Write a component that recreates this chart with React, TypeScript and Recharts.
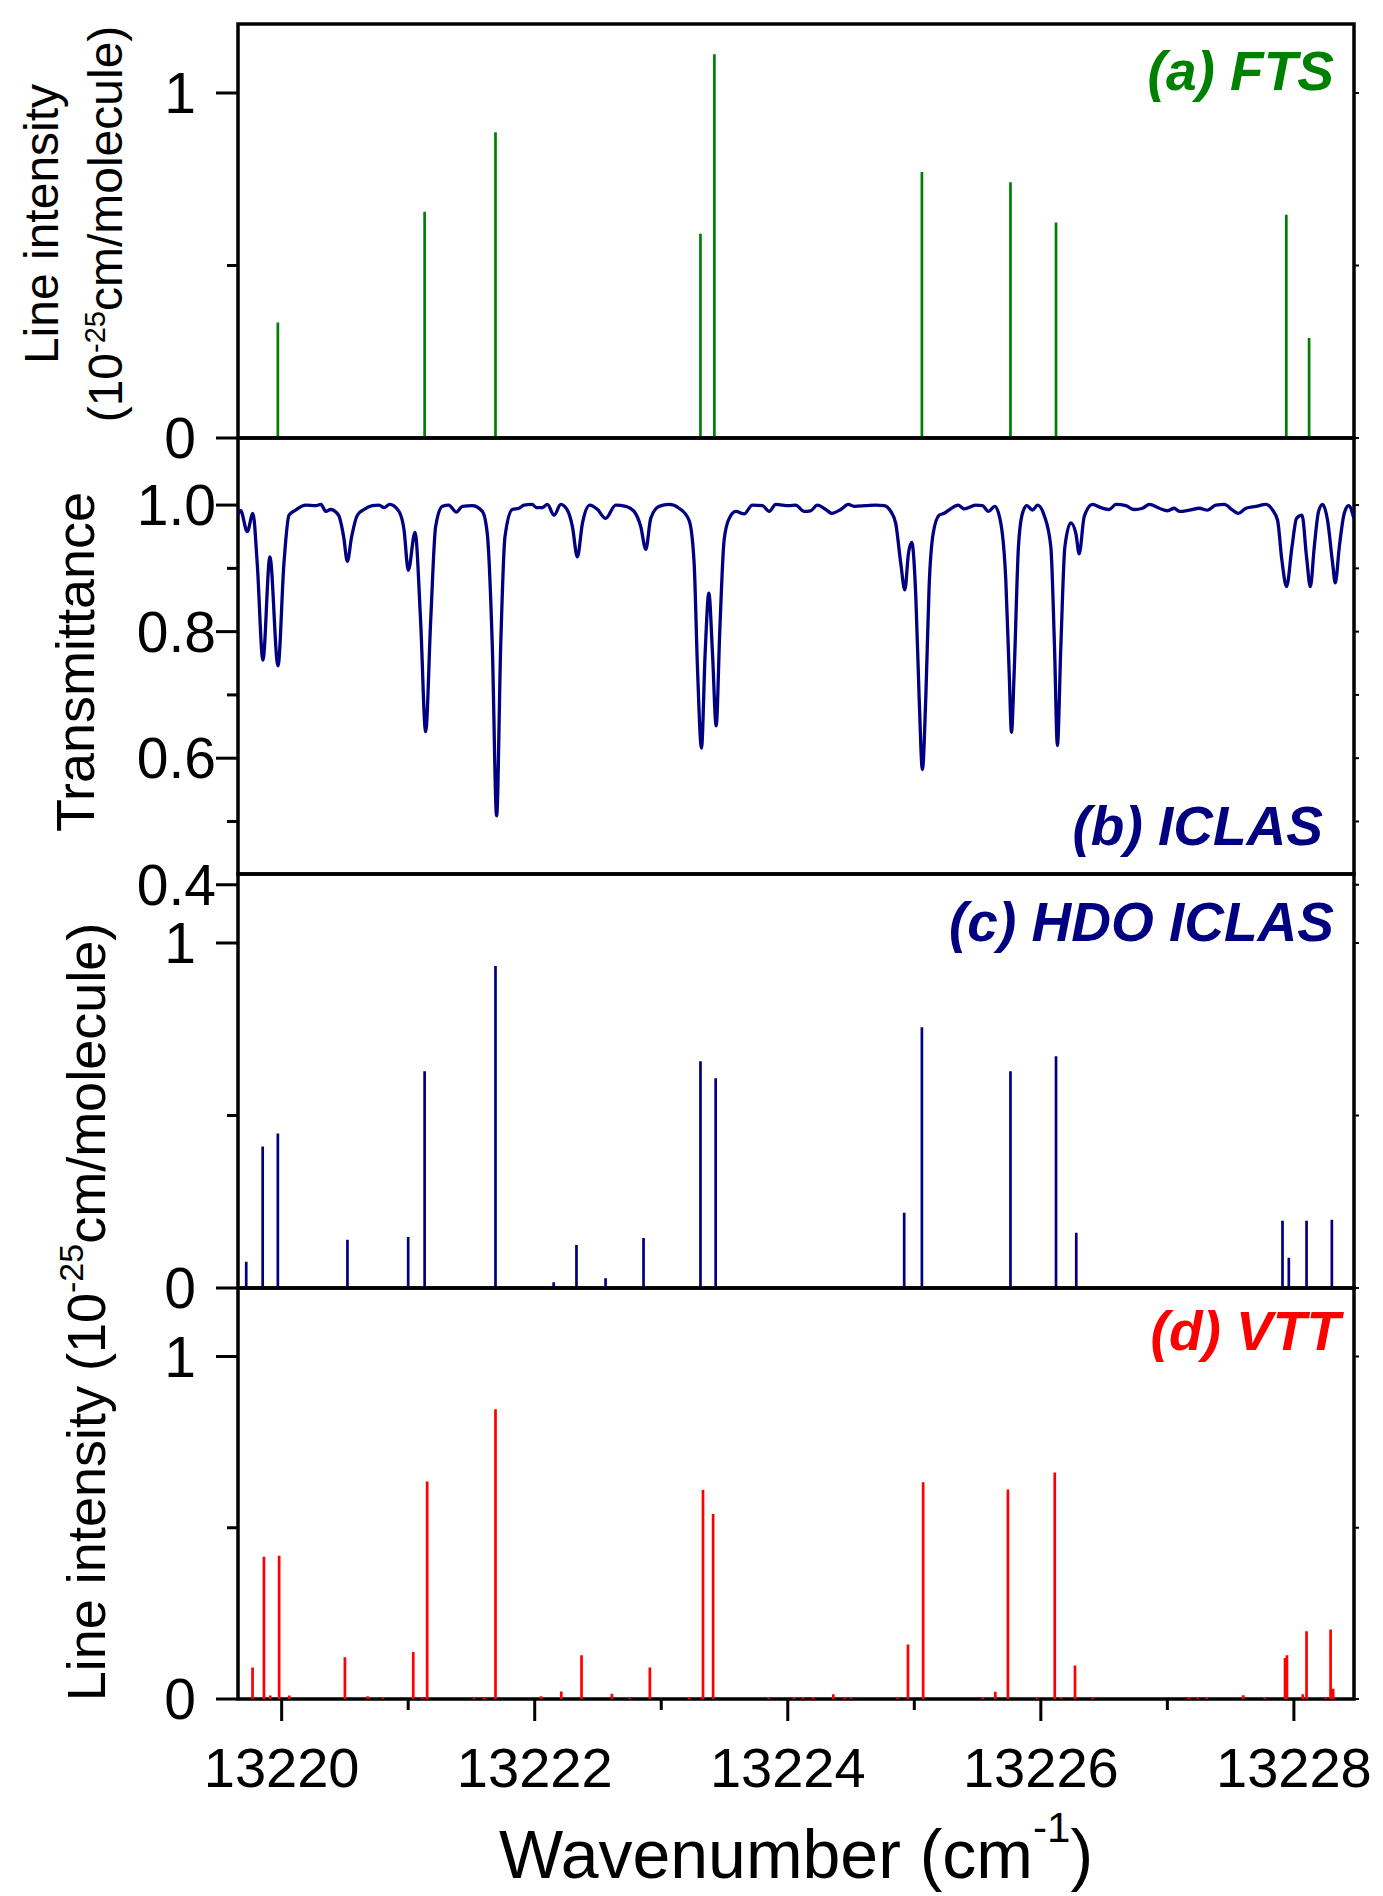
import React from "react";
import { LineChart, Line, XAxis, YAxis, ReferenceArea } from "recharts";

// wavenumber axis (cm-1)
const X_MIN = 13219.655;
const X_MAX = 13228.475;
const X_TICKS = [13220, 13221, 13222, 13223, 13224, 13225, 13226, 13227, 13228];

// (a) FTS line list
const FTS_WN = [13219.97, 13221.13, 13221.69, 13223.31, 13223.42, 13225.06, 13225.76, 13226.12, 13227.94, 13228.12];
const FTS_S = [0.335, 0.656, 0.886, 0.592, 1.112, 0.771, 0.741, 0.625, 0.647, 0.29];

// (b) ICLAS transmittance trace
const TRANS_WN = [
  13219.656, 13219.676, 13219.728, 13219.773, 13219.807, 13219.852, 13219.907, 13219.971, 13220.018, 13220.058,
  13220.11, 13220.19, 13220.27, 13220.31, 13220.35, 13220.387, 13220.45, 13220.49, 13220.519, 13220.553,
  13220.598, 13220.65, 13220.716, 13220.77, 13220.81, 13220.853, 13220.927, 13220.967, 13221.001, 13221.054,
  13221.098, 13221.138, 13221.178, 13221.217, 13221.27, 13221.32, 13221.38, 13221.428, 13221.507, 13221.586,
  13221.625, 13221.665, 13221.699, 13221.731, 13221.765, 13221.823, 13221.876, 13221.916, 13221.98, 13222.013,
  13222.06, 13222.1, 13222.153, 13222.206, 13222.258, 13222.298, 13222.337, 13222.377, 13222.435, 13222.496,
  13222.56, 13222.64, 13222.72, 13222.785, 13222.838, 13222.878, 13222.917, 13222.983, 13223.062, 13223.141,
  13223.22, 13223.26, 13223.286, 13223.318, 13223.347, 13223.376, 13223.405, 13223.434, 13223.463, 13223.497,
  13223.537, 13223.59, 13223.655, 13223.72, 13223.8, 13223.853, 13223.905, 13224.01, 13224.063, 13224.129,
  13224.18, 13224.234, 13224.3, 13224.348, 13224.419, 13224.479, 13224.524, 13224.616, 13224.695, 13224.761,
  13224.814, 13224.853, 13224.893, 13224.925, 13224.954, 13224.98, 13225.012, 13225.038, 13225.064, 13225.091,
  13225.117, 13225.149, 13225.196, 13225.236, 13225.28, 13225.346, 13225.394, 13225.486, 13225.539, 13225.586,
  13225.636, 13225.684, 13225.723, 13225.75, 13225.768, 13225.789, 13225.823, 13225.855, 13225.89, 13225.934,
  13225.974, 13226.026, 13226.079, 13226.108, 13226.131, 13226.158, 13226.19, 13226.237, 13226.277, 13226.303,
  13226.343, 13226.409, 13226.475, 13226.54, 13226.593, 13226.672, 13226.738, 13226.804, 13226.857, 13226.936,
  13227.002, 13227.054, 13227.094, 13227.173, 13227.252, 13227.318, 13227.384, 13227.45, 13227.516, 13227.56,
  13227.621, 13227.7, 13227.779, 13227.832, 13227.871, 13227.905, 13227.942, 13227.985, 13228.021, 13228.064,
  13228.1, 13228.13, 13228.161, 13228.195, 13228.227, 13228.266, 13228.306, 13228.327, 13228.359, 13228.398,
  13228.433, 13228.474,
];
const TRANS_T = [
  0.986, 0.991, 0.958, 0.987, 0.908, 0.755, 0.918, 0.746, 0.908, 0.984,
  0.992, 1.0, 0.999, 1.001, 0.99, 0.993, 0.984, 0.95, 0.911, 0.95,
  0.984, 0.993, 0.999, 1.0, 0.996, 1.001, 0.99, 0.961, 0.897, 0.957,
  0.818, 0.642, 0.818, 0.966, 0.998, 1.0, 0.989, 0.998, 0.999, 0.99,
  0.955, 0.776, 0.509, 0.776, 0.95, 0.993, 0.995, 1.0, 1.001, 0.996,
  0.996, 1.001, 0.984, 1.001, 0.992, 0.966, 0.918, 0.971, 1.0, 0.993,
  0.979, 1.0, 0.998, 0.99, 0.966, 0.93, 0.979, 0.998, 1.001, 0.995,
  0.976, 0.908, 0.745, 0.616, 0.766, 0.861, 0.766, 0.651, 0.803, 0.945,
  0.979, 0.99, 0.986, 1.0, 0.999, 0.99, 1.001, 0.999, 1.0, 0.99,
  0.991, 1.0, 0.993, 0.987, 0.993, 1.001, 0.998, 0.999, 1.0, 0.999,
  0.99, 0.971, 0.908, 0.866, 0.924, 0.941, 0.855, 0.697, 0.582, 0.697,
  0.871, 0.955, 0.984, 0.987, 0.993, 1.0, 0.994, 1.0, 0.999, 0.99,
  0.998, 0.971, 0.882, 0.734, 0.641, 0.734, 0.934, 0.987, 0.999, 0.992,
  1.0, 0.984, 0.934, 0.776, 0.62, 0.776, 0.934, 0.972, 0.955, 0.923,
  0.982, 1.001, 0.996, 0.993, 1.001, 0.999, 0.993, 0.995, 1.001, 0.995,
  0.991, 0.995, 0.99, 0.992, 0.995, 0.992, 1.0, 1.001, 0.992, 0.987,
  0.995, 0.998, 1.001, 0.992, 0.976, 0.913, 0.871, 0.934, 0.979, 0.984,
  0.918, 0.871, 0.934, 0.99, 1.001, 0.976, 0.908, 0.877, 0.934, 0.987,
  0.999, 0.979,
];

// (c) HDO ICLAS line list
const HDO_WN = [
  13219.72, 13219.85, 13219.97, 13220.52, 13221.0, 13221.13, 13221.69, 13222.15, 13222.33, 13222.56, 13222.86,
  13223.31, 13223.43, 13224.92, 13225.06, 13225.76, 13226.12, 13226.28, 13227.91, 13227.96, 13228.1, 13228.3,
];
const HDO_S = [
  0.076, 0.41, 0.448, 0.14, 0.148, 0.628, 0.933, 0.017, 0.125, 0.028, 0.145,
  0.657, 0.608, 0.218, 0.756, 0.628, 0.672, 0.16, 0.195, 0.088, 0.195, 0.198,
];

// (d) VTT calculated line list
const VTT_WN = [
  13219.77, 13219.86, 13219.91, 13219.98, 13220.06, 13220.5, 13220.68, 13220.8, 13221.04, 13221.11,
  13221.15, 13221.52, 13221.6, 13221.69, 13222.05, 13222.21, 13222.37, 13222.61, 13222.75, 13222.91,
  13223.22, 13223.33, 13223.41, 13223.85, 13224.05, 13224.12, 13224.2, 13224.36, 13224.45, 13224.5,
  13224.87, 13224.95, 13225.07, 13225.54, 13225.64, 13225.74, 13225.97, 13226.11, 13226.16, 13226.27,
  13226.41, 13227.17, 13227.24, 13227.31, 13227.6, 13227.77, 13227.93, 13227.945, 13228.07, 13228.1,
  13228.25, 13228.29, 13228.31,
];
const VTT_S = [
  0.092, 0.415, 0.01, 0.418, 0.01, 0.122, 0.008, 0.004, 0.137, 0.004,
  0.635, 0.004, 0.004, 0.846, 0.008, 0.022, 0.128, 0.015, 0.004, 0.092,
  0.004, 0.61, 0.54, 0.004, 0.005, 0.004, 0.006, 0.014, 0.005, 0.004,
  0.006, 0.159, 0.633, 0.005, 0.021, 0.612, 0.005, 0.661, 0.005, 0.098,
  0.005, 0.005, 0.004, 0.005, 0.011, 0.004, 0.12, 0.128, 0.014, 0.198,
  0.004, 0.203, 0.03,
];

const STICK_DOMAIN = [0, 1.2];
const STICK_TICKS = [0, 0.5, 1];
const TRANS_DOMAIN = [0.417, 1.106];
const TRANS_TICKS = [0.4, 0.5, 0.6, 0.7, 0.8, 0.9, 1.0];

const FONT = '"Liberation Sans", Arial, Helvetica, sans-serif';
const W = 1383;
const H = 1896;
const PLOT_LEFT = 238;
const PLOT_RIGHT = 1354;
const Y_W = 60;
const X_H = 100;

// each stick becomes 0 -> value, then a gap
function stickRows(wn: number[], s: number[]) {
  const rows: { x: number; y: number | null }[] = [];
  wn.forEach((x, i) => {
    rows.push({ x, y: 0 }, { x, y: s[i] }, { x, y: null });
  });
  return rows;
}

const near = (list: number[], v: number) => list.some((m) => Math.abs(m - v) < 1e-6);

function makeYTick(labelled: number[], majors: number[], gap: number, fmt: (v: number) => string) {
  return (props: any) => {
    const { x, y, payload } = props;
    const v = payload.value;
    const len = near(majors, v) ? 22 : 11;
    const right = x + (PLOT_RIGHT - PLOT_LEFT);
    return (
      <g>
        <line x1={x - len} x2={x} y1={y} y2={y} stroke="#000" strokeWidth={3} />
        <line x1={right} x2={right + 5} y1={y} y2={y} stroke="#000" strokeWidth={2} />
        {near(labelled, v) && (
          <text x={x - gap} y={y} dy={20} textAnchor="end" fontSize={57} fontFamily={FONT} fill="#000">
            {fmt(v)}
          </text>
        )}
      </g>
    );
  };
}

const xTick = (props: any) => {
  const { x, y, payload } = props;
  const v = payload.value;
  const major = Math.round(v) % 2 === 0;
  return (
    <g>
      <line x1={x} x2={x} y1={y} y2={y + (major ? 22 : 11)} stroke="#000" strokeWidth={3} />
      {major && (
        <text x={x} y={y + 88} textAnchor="middle" fontSize={56} fontFamily={FONT} fill="#000">
          {v}
        </text>
      )}
    </g>
  );
};

const stickTick = makeYTick([0, 1], [0, 1], 42, (v) => String(v));
const transTick = makeYTick([0.4, 0.6, 0.8, 1.0], [0.4, 0.6, 0.8, 1.0], 22, (v) => v.toFixed(1));

type PanelProps = {
  top: number;
  bottom: number;
  padBottom?: number;
  data: any[];
  dataKey: string;
  color: string;
  width: number;
  smooth?: boolean;
  yDomain: number[];
  yTicks: number[];
  yTick: any;
  showX?: boolean;
};

function Panel({ top, bottom, padBottom = 60, data, dataKey, color, width, smooth, yDomain, yTicks, yTick, showX }: PanelProps) {
  const padTop = Math.min(60, top);
  const height = padTop + (bottom - top) + padBottom;
  return (
    <div style={{ position: "absolute", left: 0, top: top - padTop, width: W, height }}>
      <LineChart
        width={W}
        height={height}
        data={data}
        margin={{
          top: padTop,
          right: W - PLOT_RIGHT,
          bottom: showX ? padBottom - X_H : padBottom,
          left: PLOT_LEFT - Y_W,
        }}
      >
        <XAxis
          type="number"
          dataKey="x"
          domain={[X_MIN, X_MAX]}
          allowDataOverflow
          ticks={X_TICKS}
          interval={0}
          hide={!showX}
          height={X_H}
          axisLine={false}
          tickLine={false}
          tickSize={0}
          tickMargin={0}
          tick={xTick}
        />
        <YAxis
          type="number"
          domain={yDomain}
          allowDataOverflow
          ticks={yTicks}
          interval={0}
          width={Y_W}
          axisLine={false}
          tickLine={false}
          tickSize={0}
          tickMargin={0}
          tick={yTick}
        />
        <Line
          type={smooth ? "monotone" : "linear"}
          dataKey={dataKey}
          stroke={color}
          strokeWidth={width}
          dot={false}
          activeDot={false}
          isAnimationActive={false}
        />
        <ReferenceArea
          x1={X_MIN}
          x2={X_MAX}
          y1={yDomain[0]}
          y2={yDomain[1]}
          fillOpacity={0}
          stroke="#000"
          strokeWidth={3.5}
          ifOverflow="visible"
        />
      </LineChart>
    </div>
  );
}

const labelStyle = { fontFamily: FONT, fontWeight: 700, fontStyle: "italic" as const };

export default function App() {
  const transData = TRANS_WN.map((x, i) => ({ x, t: TRANS_T[i] }));

  return (
    <div style={{ position: "absolute", left: 0, top: 0, width: W, height: H, background: "#fff" }}>
      <Panel top={24} bottom={438} data={stickRows(FTS_WN, FTS_S)} dataKey="y" color="#008000" width={2.7}
        yDomain={STICK_DOMAIN} yTicks={STICK_TICKS} yTick={stickTick} />
      <Panel top={438} bottom={874} data={transData} dataKey="t" color="#000080" width={3.3} smooth
        yDomain={TRANS_DOMAIN} yTicks={TRANS_TICKS} yTick={transTick} />
      <Panel top={874} bottom={1288} data={stickRows(HDO_WN, HDO_S)} dataKey="y" color="#000080" width={2.7}
        yDomain={STICK_DOMAIN} yTicks={STICK_TICKS} yTick={stickTick} />
      <Panel top={1288} bottom={1699} padBottom={197} data={stickRows(VTT_WN, VTT_S)} dataKey="y" color="#ff0000" width={2.7}
        yDomain={STICK_DOMAIN} yTicks={STICK_TICKS} yTick={stickTick} showX />

      <svg width={W} height={H} style={{ position: "absolute", left: 0, top: 0, pointerEvents: "none" }}>
        <g fontFamily={FONT} fill="#000">
          <text transform="translate(58,224) rotate(-90)" textAnchor="middle" fontSize={48}>Line intensity</text>
          <text transform="translate(122,224) rotate(-90)" textAnchor="middle" fontSize={48}>
            (10<tspan fontSize={29} dy={-17}>-25</tspan><tspan dy={17}>cm/molecule)</tspan>
          </text>
          <text transform="translate(94,662) rotate(-90)" textAnchor="middle" fontSize={54}>Transmittance</text>
          <text transform="translate(105,1312) rotate(-90)" textAnchor="middle" fontSize={54}>
            Line intensity (10<tspan fontSize={34} dy={-22}>-25</tspan><tspan dy={22}>cm/molecule)</tspan>
          </text>
          <text x={796} y={1878} textAnchor="middle" fontSize={68}>
            Wavenumber (cm<tspan fontSize={42} dy={-36}>-1</tspan><tspan dy={36}>)</tspan>
          </text>
        </g>
        <g {...labelStyle} textAnchor="end" fontSize={55}>
          <text x={1334} y={90} fill="#008000">(a) FTS</text>
          <text x={1323} y={845} fill="#000080">(b) ICLAS</text>
          <text x={1334} y={941} fill="#000080">(c) HDO ICLAS</text>
          <text x={1340} y={1350} fill="#ff0000">(d) VTT</text>
        </g>
      </svg>
    </div>
  );
}
